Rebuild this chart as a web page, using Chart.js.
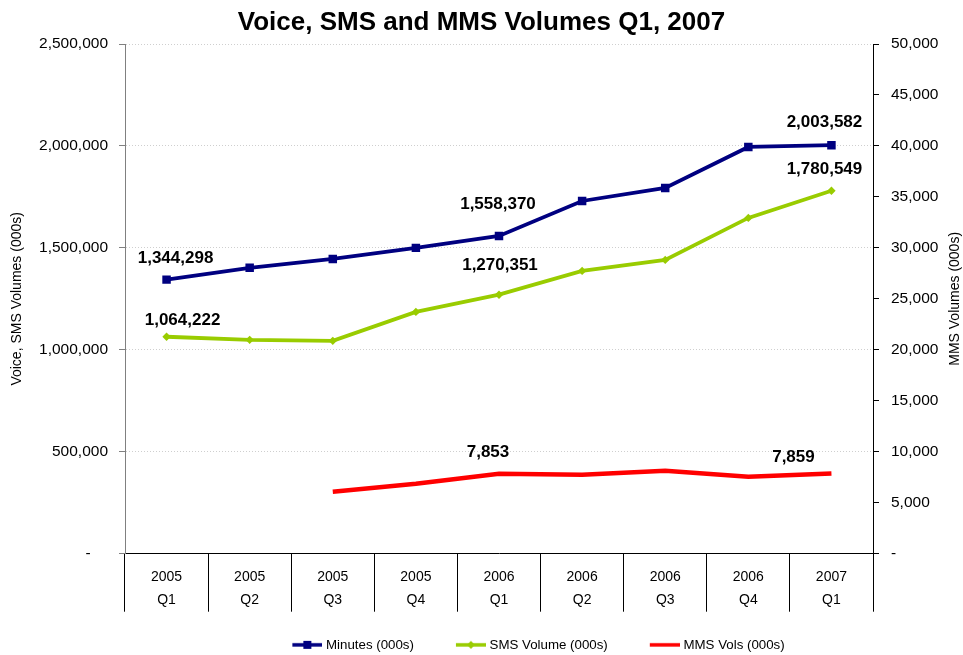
<!DOCTYPE html>
<html>
<head>
<meta charset="utf-8">
<title>Voice, SMS and MMS Volumes</title>
<script src="https://cdn.jsdelivr.net/npm/chart.js@4/dist/chart.umd.min.js"></script>
<style>
  html, body { margin: 0; padding: 0; background: #fff; }
  #wrap { width: 963px; height: 655px; }
</style>
</head>
<body>
<div id="wrap"><canvas id="volumeChart" width="963" height="655"></canvas></div>
<script>
// Quarterly volumes
const years = ['2005', '2005', '2005', '2005', '2006', '2006', '2006', '2006', '2007'];
const quarters = ['Q1', 'Q2', 'Q3', 'Q4', 'Q1', 'Q2', 'Q3', 'Q4', 'Q1'];
const minutes = [1344298, 1402000, 1446000, 1500000, 1558370, 1730000, 1794000, 1995000, 2003582];
const smsVolume = [1064222, 1049000, 1044000, 1186000, 1270351, 1387000, 1441000, 1647000, 1780549];
const mmsVolume = [null, null, 6080, 6860, 7853, 7750, 8140, 7550, 7859];

// which points get a value label
const minutesLabelled = [0, 4, 8];
const smsLabelled = [0, 4, 8];
const mmsLabelled = [4, 8];

const FONT = "'Liberation Sans', Arial, sans-serif";
Chart.defaults.font.family = FONT;
Chart.defaults.color = '#000';

const fmt = v => v.toLocaleString('en-US');

// legend swatch: line with the series marker in the middle
function legendIcon(color, marker) {
  const c = document.createElement('canvas');
  c.width = 69;
  c.height = 10;
  const g = c.getContext('2d');
  g.strokeStyle = color;
  g.lineWidth = 3.5;
  g.beginPath();
  g.moveTo(39, 5);
  g.lineTo(69, 5);
  g.stroke();
  g.fillStyle = color;
  if (marker === 'rect') {
    g.fillRect(50, 1, 8, 8);
  } else if (marker === 'diamond') {
    g.beginPath();
    g.moveTo(54, 1); g.lineTo(58, 5); g.lineTo(54, 9); g.lineTo(50, 5);
    g.closePath();
    g.fill();
  }
  return c;
}

const legendIcons = [
  legendIcon('#000080', 'rect'),
  legendIcon('#99CC00', 'diamond'),
  legendIcon('#FF0000', null)
];

// value labels above selected points
const pointLabels = {
  id: 'pointLabels',
  afterDatasetsDraw(chart) {
    const ctx = chart.ctx;
    ctx.save();
    ctx.font = 'bold 17px ' + FONT;
    ctx.fillStyle = '#000';
    ctx.textAlign = 'center';
    ctx.textBaseline = 'middle';
    chart.data.datasets.forEach((ds, di) => {
      const meta = chart.getDatasetMeta(di);
      ds.labelled.forEach((idx, k) => {
        const pt = meta.data[idx];
        const off = ds.labelOffsets[k];
        ctx.fillText(fmt(ds.data[idx]), pt.x + off[0], pt.y + off[1]);
      });
    });
    ctx.restore();
  }
};

// right axis title reads bottom-to-top like the left one
const rightTitle = {
  id: 'rightTitle',
  afterDraw(chart, args, opts) {
    const ctx = chart.ctx;
    const area = chart.chartArea;
    ctx.save();
    ctx.font = '14px ' + FONT;
    ctx.fillStyle = '#000';
    ctx.textAlign = 'center';
    ctx.textBaseline = 'middle';
    ctx.translate(opts.x, (area.top + area.bottom) / 2);
    ctx.rotate(-Math.PI / 2);
    ctx.fillText(opts.text, 0, 0);
    ctx.restore();
  }
};

// legend row sits a little right of centre
const legendShift = {
  id: 'legendShift',
  afterLayout(chart, args, opts) {
    if (!chart.legend) return;
    chart.legend.left += opts.dx;
    chart.legend.right += opts.dx;
  }
};

new Chart(document.getElementById('volumeChart'), {
  type: 'line',
  data: {
    labels: years.map((y, i) => [y, quarters[i]]),
    datasets: [
      {
        label: 'Minutes (000s)',
        data: minutes,
        yAxisID: 'y',
        borderColor: '#000080',
        backgroundColor: '#000080',
        borderWidth: 3.8,
        pointStyle: 'rect',
        pointRadius: 6,
        pointBorderWidth: 0,
        labelled: minutesLabelled,
        labelOffsets: [[9, -21], [-1, -32], [-7, -23]]
      },
      {
        label: 'SMS Volume (000s)',
        data: smsVolume,
        yAxisID: 'y',
        borderColor: '#99CC00',
        backgroundColor: '#99CC00',
        borderWidth: 3.8,
        pointStyle: 'rectRot',
        pointRadius: 4.2,
        pointBorderWidth: 0,
        labelled: smsLabelled,
        labelOffsets: [[16, -16], [1, -29], [-7, -21]]
      },
      {
        label: 'MMS Vols (000s)',
        data: mmsVolume,
        yAxisID: 'y1',
        borderColor: '#FF0000',
        backgroundColor: '#FF0000',
        borderWidth: 4.5,
        pointRadius: 0,
        labelled: mmsLabelled,
        labelOffsets: [[-11, -21], [-38, -16]]
      }
    ]
  },
  options: {
    responsive: false,
    animation: false,
    layout: { padding: { left: 0, right: 0, top: 0, bottom: -6.5 } },
    elements: { line: { tension: 0 } },
    plugins: {
      title: {
        display: true,
        text: 'Voice, SMS and MMS Volumes Q1, 2007',
        font: { size: 26, weight: 'bold' },
        color: '#000',
        padding: { top: 7, bottom: 5.8 }
      },
      legend: {
        position: 'bottom',
        align: 'center',
        labels: {
          usePointStyle: true,
          pointStyleWidth: 63,
          padding: 6,
          font: { size: 13.3 },
          color: '#000',
          generateLabels(chart) {
            return Chart.defaults.plugins.legend.labels.generateLabels(chart)
              .map((item, i) => Object.assign(item, { pointStyle: legendIcons[i] }));
          }
        }
      },
      tooltip: { enabled: false },
      rightTitle: { text: 'MMS Volumes (000s)', x: 955 },
      legendShift: { dx: 39 }
    },
    scales: {
      x: {
        offset: true,
        grid: {
          offset: true,
          drawOnChartArea: false,
          tickLength: 58,
          color: '#000'
        },
        border: { color: '#000' },
        ticks: {
          autoSkip: false,
          maxRotation: 0,
          padding: -46,
          font: { size: 14, lineHeight: '23px' },
          color: '#000'
        },
        afterFit(scale) { scale.height = 78.5; }
      },
      y: {
        position: 'left',
        min: 0,
        max: 2500000,
        ticks: {
          stepSize: 500000,
          padding: 11,
          font: { size: 15.5 },
          color: '#000',
          callback: v => v === 0 ? '-    ' : fmt(v)
        },
        grid: {
          color: '#cfcfcf',
          tickLength: 6,
          tickColor: '#808080',
          tickBorderDash: []
        },
        border: { color: '#808080', dash: [1, 2] },
        title: {
          display: true,
          text: 'Voice, SMS Volumes (000s)',
          font: { size: 14 },
          color: '#000',
          padding: { top: 8.6, bottom: 0 }
        },
        afterFit(scale) { scale.width = 125; }
      },
      y1: {
        position: 'right',
        min: 0,
        max: 50000,
        ticks: {
          stepSize: 5000,
          padding: 12,
          font: { size: 15.5 },
          color: '#000',
          callback: v => v === 0 ? '-' : fmt(v)
        },
        grid: {
          drawOnChartArea: false,
          tickLength: 6,
          color: '#000'
        },
        border: { color: '#000' },
        afterFit(scale) { scale.width = 90; }
      }
    }
  },
  plugins: [pointLabels, rightTitle, legendShift]
});
</script>
</body>
</html>
